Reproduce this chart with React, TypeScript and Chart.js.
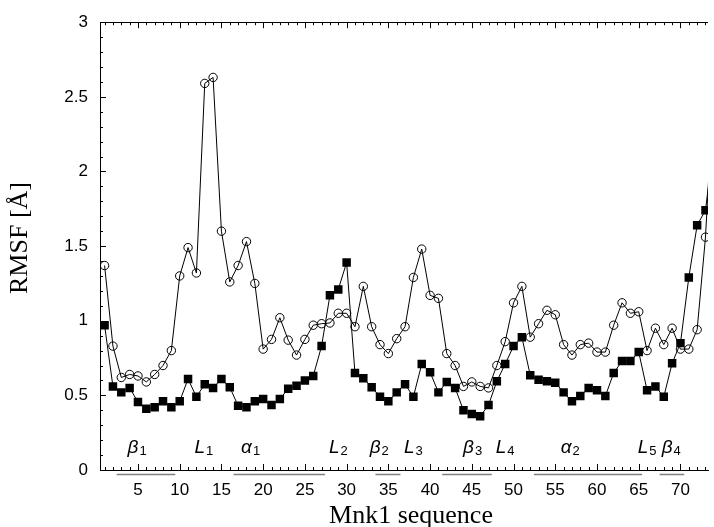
import React, { useEffect, useRef } from 'react';
import { Chart, registerables } from 'chart.js';

Chart.register(...registerables);

// residue numbers (x)
const RESIDUES = [
  1, 2, 3, 4, 5, 6, 7, 8, 9, 10, 11, 12, 13, 14, 15, 16, 17, 18, 19, 20,
  21, 22, 23, 24, 25, 26, 27, 28, 29, 30, 31, 32, 33, 34, 35, 36, 37, 38, 39, 40,
  41, 42, 43, 44, 45, 46, 47, 48, 49, 50, 51, 52, 53, 54, 55, 56, 57, 58, 59, 60,
  61, 62, 63, 64, 65, 66, 67, 68, 69, 70, 71, 72, 73, 74,
];

// open-circle series
const RMSF_OPEN = [
  1.37, 0.83, 0.62, 0.64, 0.63, 0.59, 0.64, 0.70, 0.80, 1.30,
  1.49, 1.32, 2.59, 2.63, 1.60, 1.26, 1.37, 1.53, 1.25, 0.81,
  0.875, 1.02, 0.87, 0.77, 0.875, 0.97, 0.98, 0.985, 1.05, 1.05,
  0.96, 1.23, 0.96, 0.84, 0.78, 0.88, 0.96, 1.29, 1.48, 1.17,
  1.15, 0.78, 0.70, 0.56, 0.59, 0.56, 0.55, 0.70, 0.86, 1.12,
  1.23, 0.89, 0.98, 1.07, 1.04, 0.84, 0.77, 0.84, 0.85, 0.79,
  0.79, 0.97, 1.12, 1.05, 1.06, 0.80, 0.95, 0.84, 0.95, 0.81,
  0.81, 0.94, 1.56, 2.6,
];

// filled-square series
const RMSF_FILLED = [
  0.97, 0.56, 0.52, 0.55, 0.455, 0.41, 0.42, 0.46, 0.42, 0.46,
  0.61, 0.49, 0.575, 0.55, 0.61, 0.555, 0.43, 0.42, 0.46, 0.475,
  0.435, 0.475, 0.545, 0.565, 0.60, 0.63, 0.83, 1.17, 1.21, 1.39,
  0.65, 0.615, 0.555, 0.49, 0.46, 0.52, 0.575, 0.49, 0.71, 0.655,
  0.52, 0.59, 0.55, 0.40, 0.375, 0.36, 0.435, 0.595, 0.71, 0.83,
  0.89, 0.635, 0.605, 0.595, 0.585, 0.52, 0.46, 0.495, 0.55, 0.535,
  0.495, 0.65, 0.73, 0.73, 0.79, 0.535, 0.56, 0.49, 0.715, 0.85,
  1.29, 1.64, 1.74, 2.2,
];

const X_MIN = 0.45;
const X_MAX = 73.3;
const X_TICKS = [5, 10, 15, 20, 25, 30, 35, 40, 45, 50, 55, 60, 65, 70];
const Y_TICKS = [0, 0.5, 1, 1.5, 2, 2.5, 3];

// secondary-structure annotations
const SS_LABELS = ['β', 'L', 'α', 'L', 'β', 'L', 'β', 'L', 'α', 'L', 'β'];
const SS_SUBS = ['1', '1', '1', '2', '2', '3', '3', '4', '2', '5', '4'];
const SS_LABEL_X = [4.9, 12.9, 18.5, 29.0, 33.9, 38.0, 45.1, 49.0, 56.8, 66.0, 68.9];
const SEG_START = [2.45, 16.45, 33.45, 41.45, 52.45, 67.5];
const SEG_END = [9.47, 27.42, 36.45, 47.4, 65.4, 70.45];

const TICK_FONT = { family: '"Liberation Sans", Arial, sans-serif', size: 17 };

const decorPlugin = {
  id: 'decor',
  afterDraw(chart: any) {
    const { ctx, chartArea: ca, scales } = chart;
    const x = scales.x;
    const y = scales.y;
    ctx.save();
    ctx.strokeStyle = '#000';
    ctx.lineWidth = 1;
    // top frame line
    ctx.beginPath();
    ctx.moveTo(ca.left, Math.round(ca.top) + 0.5);
    ctx.lineTo(ca.right, Math.round(ca.top) + 0.5);
    ctx.stroke();
    // inward ticks on x axis (bottom and top)
    ctx.beginPath();
    for (let v = 1; v <= 73; v++) {
      const px = Math.round(x.getPixelForValue(v)) + 0.5;
      const len = v % 5 === 0 ? 6 : 3;
      ctx.moveTo(px, ca.bottom);
      ctx.lineTo(px, ca.bottom - len);
      ctx.moveTo(px, ca.top);
      ctx.lineTo(px, ca.top + len);
    }
    // inward ticks on y axis
    for (let k = 0; k <= 30; k++) {
      const py = Math.round(y.getPixelForValue(k / 10)) + 0.5;
      const len = k % 5 === 0 ? 6 : 3;
      ctx.moveTo(ca.left, py);
      ctx.lineTo(ca.left + len, py);
    }
    ctx.stroke();

    // grey segments below axis
    ctx.strokeStyle = '#808080';
    ctx.lineWidth = 1.6;
    ctx.beginPath();
    for (let i = 0; i < SEG_START.length; i++) {
      ctx.moveTo(x.getPixelForValue(SEG_START[i]), ca.bottom + 4.5);
      ctx.lineTo(x.getPixelForValue(SEG_END[i]), ca.bottom + 4.5);
    }
    ctx.stroke();

    // secondary-structure labels
    ctx.fillStyle = '#000';
    ctx.textBaseline = 'alphabetic';
    ctx.textAlign = 'left';
    const mainFont = 'italic 19px "Liberation Sans", Arial, sans-serif';
    const subFont = '13px "Liberation Sans", Arial, sans-serif';
    for (let i = 0; i < SS_LABELS.length; i++) {
      ctx.font = mainFont;
      const w1 = ctx.measureText(SS_LABELS[i]).width;
      ctx.font = subFont;
      const w2 = ctx.measureText(SS_SUBS[i]).width;
      const cx = x.getPixelForValue(SS_LABEL_X[i]);
      const left = cx - (w1 + w2 + 1) / 2;
      ctx.font = mainFont;
      ctx.fillText(SS_LABELS[i], left, ca.bottom - 17);
      ctx.font = subFont;
      ctx.fillText(SS_SUBS[i], left + w1 + 1, ca.bottom - 15.5);
    }

    // axis titles
    ctx.font = '26px "Liberation Serif", "Times New Roman", serif';
    ctx.textAlign = 'center';
    ctx.fillText('Mnk1 sequence', 411, 523);
    ctx.save();
    ctx.translate(27, 238);
    ctx.rotate(-Math.PI / 2);
    ctx.textBaseline = 'alphabetic';
    ctx.fillText('RMSF [Å]', 0, 0);
    ctx.restore();

    ctx.restore();
  },
};

export default function App() {
  const ref = useRef<HTMLCanvasElement | null>(null);

  useEffect(() => {
    if (!ref.current) return;
    const chart = new Chart(ref.current, {
      type: 'line',
      data: {
        datasets: [
          {
            label: 'filled',
            data: RESIDUES.map((r, i) => ({ x: r, y: RMSF_FILLED[i] })),
            borderColor: '#000',
            borderWidth: 1,
            pointStyle: 'rect',
            pointRadius: 6,
            pointBorderWidth: 0,
            pointBackgroundColor: '#000',
            pointBorderColor: '#000',
            tension: 0,
            fill: false,
          },
          {
            label: 'open',
            data: RESIDUES.map((r, i) => ({ x: r, y: RMSF_OPEN[i] })),
            borderColor: '#000',
            borderWidth: 1,
            pointStyle: 'circle',
            pointRadius: 4.2,
            pointBorderWidth: 1,
            pointBackgroundColor: 'rgba(0,0,0,0)',
            pointBorderColor: '#000',
            tension: 0,
            fill: false,
          },
        ],
      },
      options: {
        animation: false,
        responsive: false,
        maintainAspectRatio: false,
        layout: { padding: { top: 20, left: 0, right: 0, bottom: 0 } },
        plugins: {
          legend: { display: false },
          tooltip: { enabled: false },
          title: { display: false },
        },
        scales: {
          x: {
            type: 'linear',
            min: X_MIN,
            max: X_MAX,
            grid: { display: false, drawTicks: false },
            border: { display: true, color: '#000', width: 1 },
            ticks: {
              font: TICK_FONT,
              color: '#000',
              padding: 10,
              maxRotation: 0,
              autoSkip: false,
              callback: (v: any) => String(v),
            },
            afterBuildTicks: (s: any) => {
              s.ticks = X_TICKS.map((v) => ({ value: v }));
            },
            afterFit: (s: any) => {
              s.height = 57;
            },
          },
          y: {
            type: 'linear',
            min: 0,
            max: 3,
            grid: { display: false, drawTicks: false },
            border: { display: true, color: '#000', width: 1 },
            ticks: {
              font: TICK_FONT,
              color: '#000',
              padding: 12,
              callback: (v: any) => String(v),
            },
            afterBuildTicks: (s: any) => {
              s.ticks = Y_TICKS.map((v) => ({ value: v }));
            },
            afterFit: (s: any) => {
              s.width = 100;
            },
          },
        },
      },
      plugins: [decorPlugin],
    });
    return () => chart.destroy();
  }, []);

  return (
    <div
      style={{
        position: 'absolute',
        left: 0,
        top: 0,
        width: 714,
        height: 527,
        overflow: 'hidden',
        background: '#fff',
      }}
    >
      <canvas ref={ref} width={714} height={527} style={{ width: 714, height: 527, display: 'block' }} />
    </div>
  );
}
